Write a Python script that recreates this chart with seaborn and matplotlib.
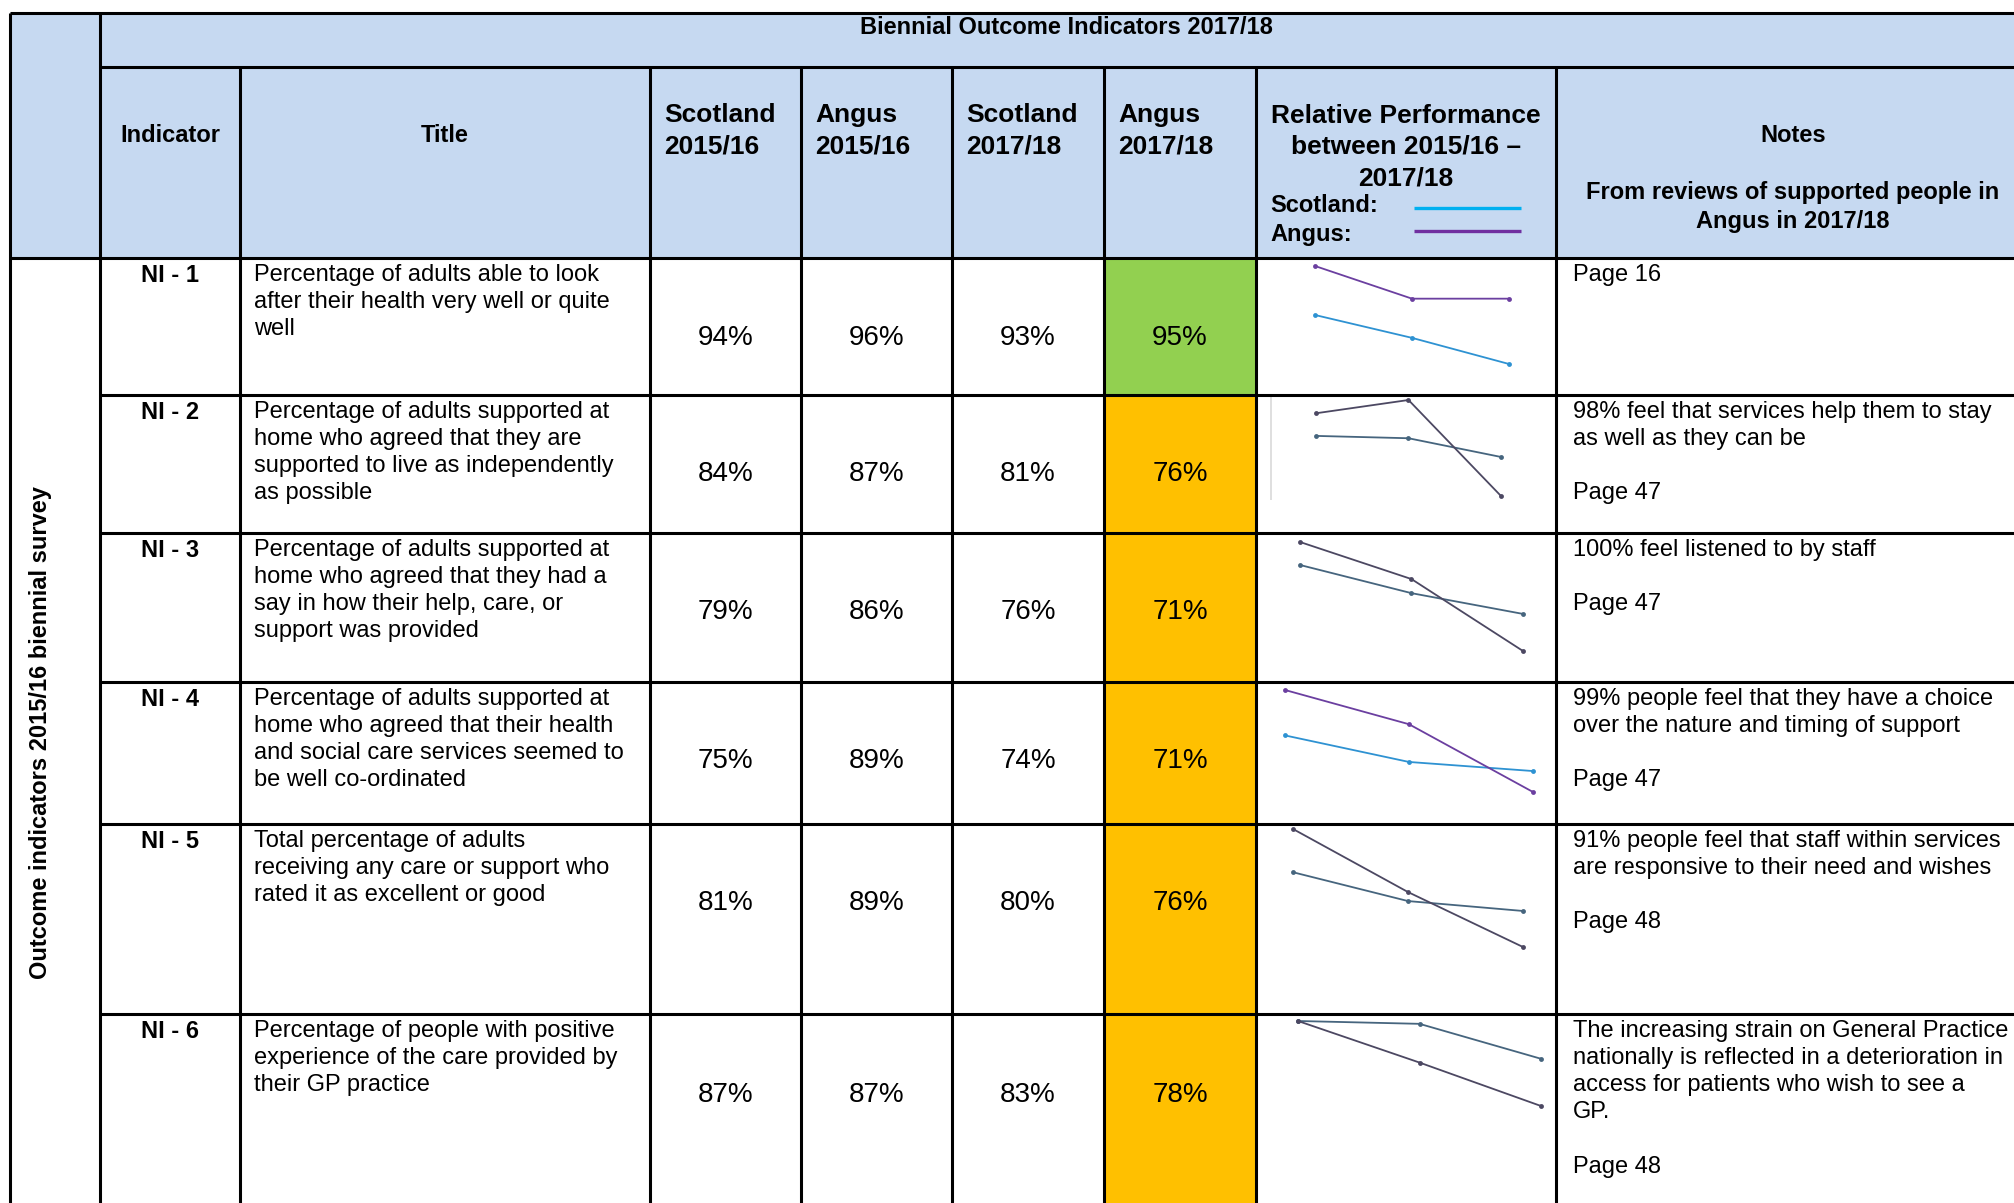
import pandas as pd
import matplotlib.pyplot as plt
from matplotlib.patches import Rectangle
import seaborn as sns

sns.set_theme(style="white")
plt.rcParams["font.family"] = ["Liberation Sans", "DejaVu Sans"]
plt.rcParams["text.color"] = "black"

# Table data
INDICATORS = ["NI - 1", "NI - 2", "NI - 3", "NI - 4", "NI - 5", "NI - 6"]
TITLES = [
    "Percentage of adults able to look\nafter their health very well or quite\nwell",
    "Percentage of adults supported at\nhome who agreed that they are\nsupported to live as independently\nas possible",
    "Percentage of adults supported at\nhome who agreed that they had a\nsay in how their help, care, or\nsupport was provided",
    "Percentage of adults supported at\nhome who agreed that their health\nand social care services seemed to\nbe well co-ordinated",
    "Total percentage of adults\nreceiving any care or support who\nrated it as excellent or good",
    "Percentage of people with positive\nexperience of the care provided by\ntheir GP practice",
]
SCOTLAND_1516 = [94, 84, 79, 75, 81, 87]
ANGUS_1516 = [96, 87, 86, 89, 89, 87]
SCOTLAND_1718 = [93, 81, 76, 74, 80, 83]
ANGUS_1718 = [95, 76, 71, 71, 76, 78]
RAG = ["green", "amber", "amber", "amber", "amber", "amber"]
NOTES = [
    "Page 16",
    "98% feel that services help them to stay\nas well as they can be\n\nPage 47",
    "100% feel listened to by staff\n\nPage 47",
    "99% people feel that they have a choice\nover the nature and timing of support\n\nPage 47",
    "91% people feel that staff within services\nare responsive to their need and wishes\n\nPage 48",
    "The increasing strain on General Practice\nnationally is reflected in a deterioration in\naccess for patients who wish to see a\nGP.\n\nPage 48",
]

# Sparkline values (three survey waves, estimated from the mini charts)
SPARK_WAVES = [0, 1, 2]
SPARK_SCOTLAND = [
    [94.5, 93.8, 93.0],
    [83.7, 83.4, 81.0],
    [82.6, 78.8, 76.0],
    [79.1, 75.3, 74.0],
    [84.3, 81.1, 80.0],
    [87.0, 86.7, 83.0],
]
SPARK_ANGUS = [
    [96.0, 95.0, 95.0],
    [86.6, 88.3, 76.0],
    [85.7, 80.7, 71.0],
    [85.6, 80.7, 71.0],
    [89.1, 82.1, 76.0],
    [87.0, 82.6, 78.0],
]

# Layout (pixels)
W, H = 2015, 1203
HEADER_BG = "#C6D9F1"
RAG_COLORS = {"green": "#92D050", "amber": "#FFC000"}
COLS = [10, 100, 240, 650, 801, 952, 1104, 1256, 1556, 2040]
ROW_TOPS = [258, 395, 533, 682, 824, 1014]
ROW_BOTTOMS = [395, 533, 682, 824, 1014, 1260]
NUM_Y = [338, 474, 612, 761, 903, 1095]
SPARK_BOX = [  # x_first, x_last, y_top, y_bottom
    (1315, 1509, 266, 364),
    (1316, 1501, 400, 496),
    (1300, 1523, 542, 651),
    (1285, 1533, 690, 792),
    (1293, 1523, 829, 947),
    (1298, 1541, 1021, 1106),
]
SPARK_STYLE = ["bright", "dark", "dark", "bright", "dark", "dark"]
SPARK_PALETTES = {
    "bright": {"Scotland": "#2E92D2", "Angus": "#6B3FA0"},
    "dark": {"Scotland": "#46657E", "Angus": "#4C4862"},
}
BODY_LS = 1.3

fig = plt.figure(figsize=(W / 100, H / 100), dpi=100)
ax = fig.add_axes([0, 0, 1, 1])
ax.set_xlim(0, W)
ax.set_ylim(H, 0)
ax.axis("off")

# Backgrounds
ax.add_patch(Rectangle((10, 13), 2040, 245, color=HEADER_BG, zorder=0))
for i, r in enumerate(RAG):
    ax.add_patch(Rectangle((COLS[6], ROW_TOPS[i]), COLS[7] - COLS[6],
                           ROW_BOTTOMS[i] - ROW_TOPS[i],
                           color=RAG_COLORS[r], zorder=0))

# Grid lines
lw = 2.2
ax.hlines([13, 258], 10, W + 20, color="black", lw=lw, zorder=3)
ax.hlines([67], 100, W + 20, color="black", lw=lw, zorder=3)
ax.hlines(ROW_TOPS[1:], 100, W + 20, color="black", lw=lw, zorder=3)
ax.vlines([10, 100], 13, H + 10, color="black", lw=lw, zorder=3)
ax.vlines(COLS[2:9], 67, H + 10, color="black", lw=lw, zorder=3)
# faint axis line left in the NI-2 mini chart image
ax.vlines([1271], 397, 500, color="#D9D9D9", lw=1.2, zorder=2)

# Header text
ax.text(1066, 28, "Biennial Outcome Indicators 2017/18", ha="center", va="center",
        fontsize=17, fontweight="bold")
ax.text(170, 135, "Indicator", ha="center", va="center", fontsize=17, fontweight="bold")
ax.text(445, 135, "Title", ha="center", va="center", fontsize=17, fontweight="bold")
for i, lab in enumerate(["Scotland\n2015/16", "Angus\n2015/16",
                         "Scotland\n2017/18", "Angus\n2017/18"]):
    ax.text(COLS[3 + i] + 14, 131, lab, ha="left", va="center", fontsize=19,
            fontweight="bold", linespacing=1.4)
ax.text(1406, 147, "Relative Performance\nbetween 2015/16 \u2013\n2017/18", ha="center",
        va="center", fontsize=19, fontweight="bold", linespacing=1.37)
ax.text(1270, 206, "Scotland:", ha="left", va="center", fontsize=17, fontweight="bold")
ax.text(1270, 234, "Angus:", ha="left", va="center", fontsize=17, fontweight="bold")
ax.plot([1414, 1521], [208, 208], color="#00B0F0", lw=2.4, solid_capstyle="butt")
ax.plot([1414, 1521], [231, 231], color="#7030A0", lw=2.4, solid_capstyle="butt")
ax.text(1793, 135, "Notes", ha="center", va="center", fontsize=17, fontweight="bold")
ax.text(1793, 207, "From reviews of supported people in\nAngus in 2017/18", ha="center",
        va="center", fontsize=17, fontweight="bold", linespacing=BODY_LS)

# Vertical row-group label
ax.text(41, 733, "Outcome indicators 2015/16 biennial survey", rotation=90,
        ha="center", va="center", fontsize=17, fontweight="bold")

# Body rows
for i in range(len(INDICATORS)):
    top = ROW_TOPS[i] + 6
    ax.text(170, top, INDICATORS[i], ha="center", va="top", fontsize=17, fontweight="bold")
    ax.text(254, top, TITLES[i], ha="left", va="top", fontsize=17, linespacing=BODY_LS)
    ax.text(1573, top, NOTES[i], ha="left", va="top", fontsize=17, linespacing=BODY_LS)
    vals = [SCOTLAND_1516[i], ANGUS_1516[i], SCOTLAND_1718[i], ANGUS_1718[i]]
    for j, v in enumerate(vals):
        cx = (COLS[3 + j] + COLS[4 + j]) / 2
        ax.text(cx, NUM_Y[i], f"{v}%", ha="center", va="center", fontsize=20)

# Sparklines
for i in range(len(INDICATORS)):
    x0, x1, y0, y1 = SPARK_BOX[i]
    sax = fig.add_axes([x0 / W, 1 - y1 / H, (x1 - x0) / W, (y1 - y0) / H])
    df = pd.DataFrame({
        "wave": SPARK_WAVES * 2,
        "value": SPARK_SCOTLAND[i] + SPARK_ANGUS[i],
        "area": ["Scotland"] * 3 + ["Angus"] * 3,
    })
    sns.lineplot(data=df, x="wave", y="value", hue="area",
                 palette=SPARK_PALETTES[SPARK_STYLE[i]], marker="o", markersize=3.5,
                 markeredgewidth=0, linewidth=1.3, legend=False, ax=sax)
    sax.set_xlim(min(SPARK_WAVES), max(SPARK_WAVES))
    sax.set_ylim(df["value"].min(), df["value"].max())
    sax.axis("off")
    for line in sax.lines:
        line.set_clip_on(False)

fig.savefig("out.png", dpi=100)
